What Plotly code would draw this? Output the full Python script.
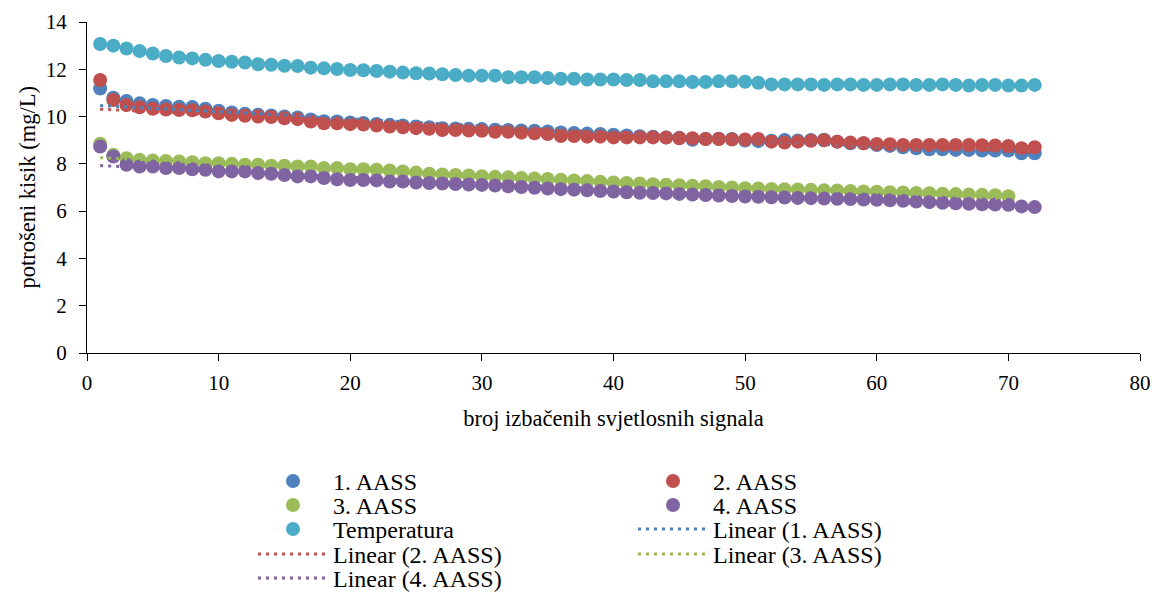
import numpy as np
import plotly.graph_objects as go

x_all = list(range(1, 73))
x_green = list(range(1, 71))

aass1 = [11.19, 10.80, 10.66, 10.56, 10.49, 10.45, 10.42, 10.40, 10.33, 10.25,
         10.17, 10.12, 10.08, 10.05, 10.00, 9.96, 9.88, 9.80, 9.79, 9.75,
         9.73, 9.69, 9.65, 9.62, 9.58, 9.55, 9.51, 9.50, 9.48, 9.47,
         9.44, 9.43, 9.41, 9.40, 9.37, 9.33, 9.31, 9.28, 9.26, 9.23,
         9.20, 9.17, 9.15, 9.12, 9.10, 9.02, 9.05, 9.06, 9.05, 8.99,
         8.96, 8.98, 9.01, 8.99, 9.01, 9.02, 8.94, 8.87, 8.87, 8.80,
         8.76, 8.70, 8.66, 8.62, 8.62, 8.59, 8.59, 8.56, 8.56, 8.56,
         8.45, 8.45]

aass2 = [11.55, 10.70, 10.49, 10.39, 10.33, 10.30, 10.28, 10.27, 10.21, 10.14,
         10.07, 10.03, 10.00, 9.98, 9.93, 9.89, 9.79, 9.72, 9.72, 9.68,
         9.66, 9.62, 9.58, 9.55, 9.51, 9.48, 9.43, 9.43, 9.41, 9.40,
         9.36, 9.36, 9.32, 9.29, 9.26, 9.18, 9.18, 9.15, 9.15, 9.12,
         9.12, 9.12, 9.12, 9.11, 9.08, 9.08, 9.05, 9.05, 9.03, 9.03,
         9.05, 8.94, 8.90, 8.94, 8.98, 9.00, 8.94, 8.90, 8.87, 8.84,
         8.83, 8.80, 8.80, 8.80, 8.80, 8.80, 8.80, 8.79, 8.78, 8.76,
         8.66, 8.70]

aass3 = [8.85, 8.38, 8.24, 8.17, 8.14, 8.12, 8.10, 8.07, 8.03, 8.03,
         8.00, 7.96, 7.96, 7.92, 7.92, 7.89, 7.89, 7.82, 7.82, 7.77,
         7.77, 7.75, 7.72, 7.68, 7.63, 7.58, 7.55, 7.53, 7.51, 7.48,
         7.45, 7.43, 7.40, 7.38, 7.36, 7.33, 7.30, 7.27, 7.24, 7.21,
         7.19, 7.17, 7.14, 7.12, 7.10, 7.07, 7.05, 7.02, 7.00, 6.97,
         6.96, 6.94, 6.93, 6.92, 6.90, 6.88, 6.87, 6.85, 6.83, 6.82,
         6.80, 6.79, 6.77, 6.76, 6.74, 6.72, 6.70, 6.69, 6.67, 6.63]

aass4 = [8.73, 8.31, 7.96, 7.89, 7.89, 7.82, 7.82, 7.77, 7.75, 7.68,
         7.68, 7.68, 7.61, 7.58, 7.53, 7.47, 7.47, 7.40, 7.35, 7.32,
         7.32, 7.30, 7.25, 7.25, 7.21, 7.19, 7.17, 7.15, 7.13, 7.11,
         7.08, 7.05, 7.02, 6.99, 6.96, 6.93, 6.91, 6.88, 6.85, 6.83,
         6.80, 6.78, 6.77, 6.75, 6.73, 6.70, 6.68, 6.66, 6.64, 6.62,
         6.61, 6.59, 6.58, 6.56, 6.55, 6.53, 6.52, 6.51, 6.49, 6.48,
         6.46, 6.44, 6.41, 6.38, 6.35, 6.33, 6.31, 6.29, 6.28, 6.27,
         6.20, 6.17]

temperatura = [13.07, 13.00, 12.88, 12.77, 12.67, 12.56, 12.50, 12.46, 12.40, 12.35,
               12.32, 12.29, 12.21, 12.19, 12.15, 12.14, 12.07, 12.04, 12.01, 11.97,
               11.96, 11.93, 11.90, 11.86, 11.83, 11.82, 11.79, 11.76, 11.73, 11.73,
               11.73, 11.66, 11.66, 11.66, 11.63, 11.60, 11.60, 11.57, 11.57, 11.57,
               11.55, 11.55, 11.49, 11.49, 11.49, 11.46, 11.46, 11.49, 11.49, 11.47,
               11.43, 11.36, 11.36, 11.36, 11.36, 11.34, 11.36, 11.36, 11.34, 11.34,
               11.36, 11.36, 11.34, 11.34, 11.36, 11.34, 11.31, 11.34, 11.34, 11.31,
               11.31, 11.34]

x_title = "broj izbačenih svjetlosnih signala"
y_title = "potrošeni kisik (mg/L)"

C_BLUE = "#4F81BD"
C_RED = "#C0504D"
C_GREEN = "#9BBB59"
C_PURPLE = "#8064A2"
C_AQUA = "#4BACC6"

FONT = "Liberation Serif"
PAGE_OFFSET = 8            # default body margin of the html page
W, H = 1159 - PAGE_OFFSET, 592 - PAGE_OFFSET

# plot area in window pixels
PL, PR, PT, PB = 87, 1140, 22, 353

# legend slot for each entry: (column left px, row centre px) in window pixels
COL1, COL2 = 253, 633
ROWS = [482, 506, 530, 555, 579]
LEG_FONT = 24
ROW_OFFSET = 6 + (LEG_FONT * 1.3 + 3) / 2

fig = go.Figure()
legend_layouts = {}
counter = [0]

def new_legend(col, row):
    counter[0] += 1
    key = "legend" if counter[0] == 1 else "legend%d" % counter[0]
    legend_layouts[key] = dict(
        orientation="v", xref="container", yref="container",
        xanchor="left", yanchor="top",
        x=(col - PAGE_OFFSET) / W,
        y=1 - (ROWS[row] - PAGE_OFFSET - ROW_OFFSET) / H,
        font=dict(family=FONT, size=LEG_FONT, color="black"),
        bgcolor="rgba(0,0,0,0)", borderwidth=0,
        itemwidth=70, tracegroupgap=0,
    )
    return key

def pts(xs, ys, name, color, col, row):
    fig.add_trace(go.Scatter(
        x=xs, y=ys, mode="markers", name=name,
        marker=dict(color=color, size=14, line=dict(width=0)),
        legend=new_legend(col, row)))

pts(x_all, aass1, "1. AASS", C_BLUE, COL1, 0)
pts(x_all, aass2, "2. AASS", C_RED, COL2, 0)
pts(x_green, aass3, "3. AASS", C_GREEN, COL1, 1)
pts(x_all, aass4, "4. AASS", C_PURPLE, COL2, 1)
pts(x_all, temperatura, "Temperatura", C_AQUA, COL1, 2)

def trend(xs, ys, name, color, col, row):
    a, b = np.polyfit(xs, ys, 1)
    xx = [xs[0], xs[-1]]
    yy = [a * v + b for v in xx]
    fig.add_trace(go.Scatter(
        x=xx, y=yy, mode="lines", name=name,
        line=dict(color=color, width=3, dash="3px,5px"),
        legend=new_legend(col, row)))

trend(x_all, aass1, "Linear (1. AASS)", C_BLUE, COL2, 2)
trend(x_all, aass2, "Linear (2. AASS)", C_RED, COL1, 3)
trend(x_green, aass3, "Linear (3. AASS)", C_GREEN, COL2, 3)
trend(x_all, aass4, "Linear (4. AASS)", C_PURPLE, COL1, 4)

fig.add_annotation(
    text=y_title, textangle=-90,
    xref="paper", yref="paper",
    x=(27 - PL) / (PR - PL), y=0.5,
    xanchor="center", yanchor="middle", showarrow=False,
    font=dict(family=FONT, size=22.5, color="black"),
)

fig.update_layout(
    width=W, height=H,
    margin=dict(l=PL - PAGE_OFFSET, r=(PAGE_OFFSET + W) - PR,
                t=PT - PAGE_OFFSET, b=(PAGE_OFFSET + H) - PB,
                autoexpand=False),
    paper_bgcolor="white", plot_bgcolor="white",
    font=dict(family=FONT, size=20, color="black"),
    showlegend=True,
    xaxis=dict(
        range=[0, 80], dtick=10, tick0=0,
        showline=True, linecolor="black", linewidth=1.3,
        ticks="outside", ticklen=7, tickcolor="black", tickwidth=1.3,
        ticklabelstandoff=4,
        showgrid=False, zeroline=False,
        tickfont=dict(family=FONT, size=21, color="black"),
        title=dict(text=x_title,
                   font=dict(family=FONT, size=22.5, color="black")),
    ),
    yaxis=dict(
        range=[0, 14], dtick=2, tick0=0,
        showline=True, linecolor="black", linewidth=1.3,
        ticks="outside", ticklen=7, tickcolor="black", tickwidth=1.3,
        ticklabelstandoff=8,
        showgrid=False, zeroline=False,
        tickfont=dict(family=FONT, size=21, color="black"),
    ),
    **legend_layouts,
)

fig.write_html("out.html")
